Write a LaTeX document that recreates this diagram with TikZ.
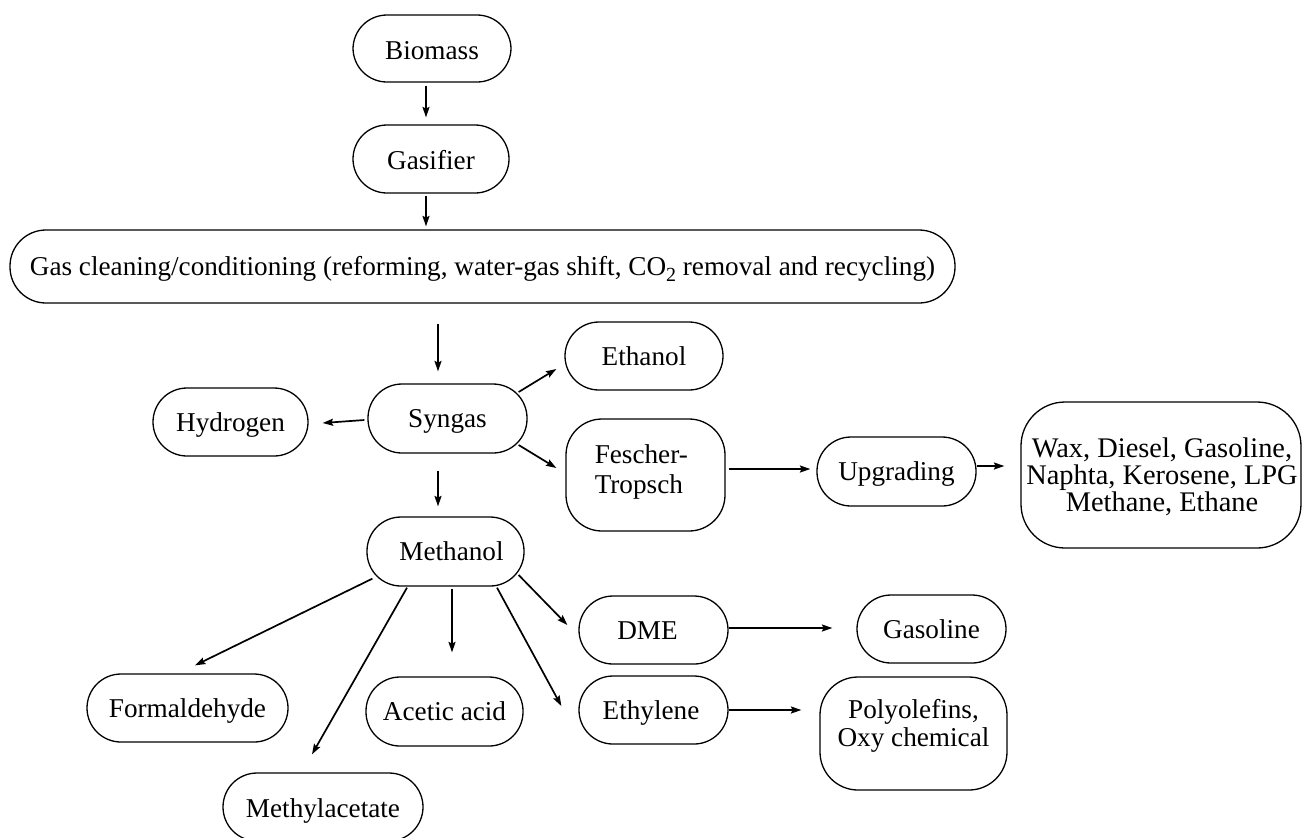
\documentclass[tikz,border=0pt]{standalone}
\usepackage{fontspec}
\setmainfont{Liberation Serif}
\usetikzlibrary{arrows.meta,calc}
\begin{document}
\begin{tikzpicture}[x=0.5pt,y=-0.5pt,
  box/.style={draw,line width=0.65pt,rounded corners=17pt,inner sep=0pt},
  lbl/.style={inner sep=0pt,align=center,font=\fontsize{13.6}{15}\selectfont},
  one/.style={lbl,text height=12pt,text depth=2.8pt},
  arr/.style={line width=0.85pt,-{Stealth[length=5.2pt,width=3.5pt,inset=0.8pt]}}]
\useasboundingbox (0,0) rectangle (1302,837);
\clip (0,0) rectangle (1302,837);

% process boxes
\node[box,minimum width=79pt,minimum height=33.5pt]  (bio)   at (432,48.5)   {};
\node[box,minimum width=78pt,minimum height=34pt]    (gas)   at (431,159)    {};
\node[box,minimum width=472.5pt,minimum height=36.5pt,rounded corners=18pt] (clean) at (482.5,266.5) {};
\node[box,minimum width=79.5pt,minimum height=34.5pt] (syn)  at (447.5,418.5) {};
\node[box,minimum width=77.5pt,minimum height=34pt]  (hyd)   at (230.5,422)  {};
\node[box,minimum width=79pt,minimum height=34pt]    (eth)   at (644,356)    {};
\node[box,minimum width=79.5pt,minimum height=56pt,rounded corners=18pt] (ft) at (645.5,475) {};
\node[box,minimum width=79.5pt,minimum height=34.5pt] (upg)  at (896.5,471.5) {};
\node[box,minimum width=140pt,minimum height=73pt,rounded corners=22pt] (wax) at (1161,475) {};
\node[box,minimum width=78.5pt,minimum height=34.5pt] (meth) at (445.5,551.5) {};
\node[box,minimum width=100.5pt,minimum height=34pt] (form)  at (187.5,708)  {};
\node[box,minimum width=78.5pt,minimum height=34.5pt] (acet) at (444.5,711.5) {};
\node[box,minimum width=100pt,minimum height=34pt]   (mac)   at (323,807)    {};
\node[box,minimum width=74.5pt,minimum height=34pt]  (dme)   at (653.5,630)  {};
\node[box,minimum width=74.5pt,minimum height=34pt]  (gasol) at (931.5,629)  {};
\node[box,minimum width=74.5pt,minimum height=34pt]  (ethy)  at (653.5,710)  {};
\node[box,minimum width=93.5pt,minimum height=56.5pt,rounded corners=19pt] (poly) at (913.5,733.5) {};

% labels
\node[one] (bioT)   at ($(bio)+(0,2)$)   {Biomass};
\node[one] (gasT)   at ($(gas)+(0,1)$)   {Gasifier};
\node[one] (cleanT) at (clean) {Gas cleaning/conditioning (reforming, water-gas shift, CO\raisebox{-0.45ex}{\fontsize{10}{10}\selectfont 2} removal and recycling)};
\node[one] (synT)   at (syn)   {Syngas};
\node[one] (hydT)   at (hyd)   {Hydrogen};
\node[one] (ethT)   at (eth)   {Ethanol};
\node[lbl,align=left,anchor=west] (ftT) at ($(ft.west)+(29,-3)$) {Fescher-\\Tropsch};
\node[one] (upgT)   at (upg)   {Upgrading};
\node[lbl,font=\fontsize{14.2}{13.5}\selectfont] (waxT) at ($(wax)+(1,2)$) {Wax, Diesel, Gasoline,\\Naphta, Kerosene, LPG\\Methane, Ethane};
\node[one] (methT)  at ($(meth)+(6,0)$) {Methanol};
\node[one] (formT)  at (form)  {Formaldehyde};
\node[one] (acetT)  at (acet)  {Acetic acid};
\node[one] (macT)   at ($(mac)+(0,1)$) {Methylacetate};
\node[one] (dmeT)   at ($(dme)+(-6,0)$) {DME};
\node[one] (gasolT) at (gasol) {Gasoline};
\node[one] (ethyT)  at ($(ethy)+(-2.5,0)$) {Ethylene};
\node[lbl,font=\fontsize{13.6}{14}\selectfont] (polyT) at ($(poly)+(0,-8)$) {Polyolefins,\\Oxy chemical};

% flow
\draw[arr] ($(bio.south)+(-6,3)$) -- ($(gas.north)+(-5,-7)$);
\draw[arr] ($(gas.south)+(-5,2)$) -- ($(clean.north)+(-56.5,-3)$);
\draw[arr] ($(clean.south)+(-44.5,20)$) -- ($(syn.north)+(-9.5,-12)$);
\draw[arr] ($(syn.west)+(-3,1.5)$) -- ($(hyd.east)+(14,1)$);
\draw[arr] ($(syn.east)+(-9,-26.5)$) -- ($(eth.west)+(-8,13)$);
\draw[arr] ($(syn.east)+(-9,26.5)$) -- ($(ft.west)+(-9,-7)$);
\draw[arr] ($(ft.east)+(3,-6)$) -- ($(upg.west)+(-6,-2.5)$);
\draw[arr] ($(upg.east)+(0,-5.5)$) -- ($(wax.west)+(-16,-9)$);
\draw[arr] ($(syn.south)+(-9.5,17)$) -- ($(meth.north)+(-7.5,-10)$);
\draw[arr] ($(meth.south west)+(6,-8)$) -- ($(form.north)+(7.5,-8)$);
\draw[arr] ($(meth.south)+(-38.5,1)$) -- ($(mac.north)+(-11,-18)$);
\draw[arr] ($(meth.south)+(6.5,2)$) -- ($(acet.north)+(7.5,-24)$);
\draw[arr] ($(meth.south)+(51.5,1)$) -- ($(ethy.west)+(-17,-4)$);
\draw[arr] ($(meth.east)+(-6,23.5)$) -- ($(dme.west)+(-11,-5)$);
\draw[arr] ($(dme.east)+(0,-2)$) -- ($(gasol.west)+(-24,-1)$);
\draw[arr] (ethy.east) -- ($(poly.west)+(-18,-23.5)$);
\end{tikzpicture}
\end{document}
